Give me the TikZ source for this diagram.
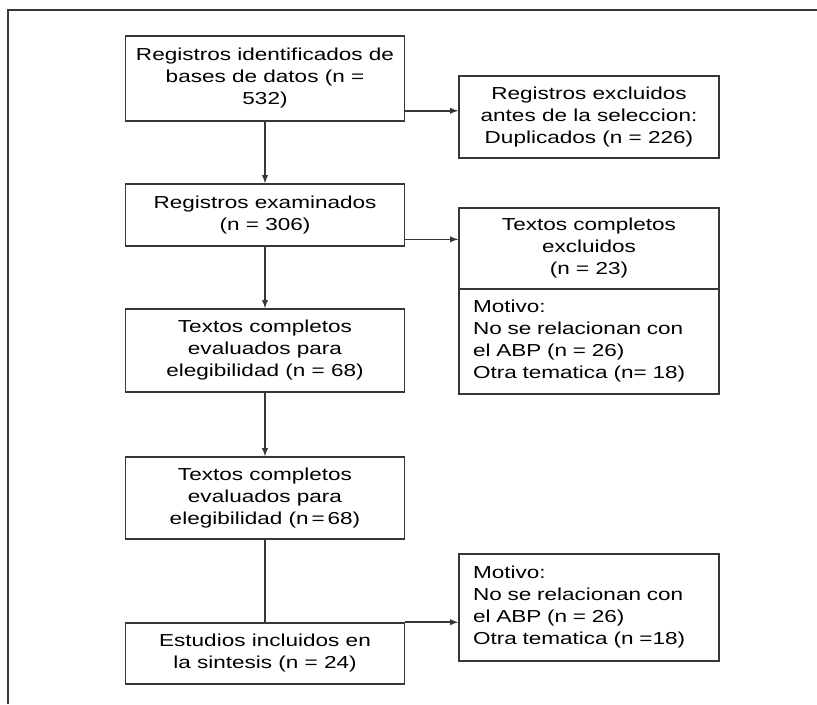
\documentclass[tikz,border=0pt]{standalone}
\usepackage{fontspec}
\setmainfont[FakeStretch=1.3]{Liberation Sans}
\usepackage{tikz}
\usetikzlibrary{arrows}
\usetikzlibrary{positioning}
\definecolor{linegray}{RGB}{55,55,55}
\tikzset{>=latex}
\tikzstyle{box} = [rectangle, draw=linegray, line width=1.2pt, align=center, inner sep=0, minimum width=209.25pt]
\tikzstyle{sidebox} = [rectangle, draw=linegray, line width=1.2pt, inner sep=0, minimum width=195pt]
\tikzstyle{reason} = [rectangle, draw=linegray, line width=1.2pt, align=left, text width=174pt, inner xsep=10.5pt, inner ysep=0]
\tikzstyle{link} = [-latex, draw=linegray, line width=1.1pt]

\begin{document}
\begin{tikzpicture}[x=0.75pt, y=-0.75pt, font=\fontsize{13}{16.5}\selectfont]
\useasboundingbox (0,0) rectangle (817,704);
\draw [line width=1.5pt, draw=linegray] (817,10) -- (8,10) -- (8,704);
% left column
\node [box, minimum height=63.75pt] (R) at (265, 78.5) {Registros identificados de\\bases de datos (n =\\532)};
\node [box, minimum height=46.5pt] (E) at (265, 215) {Registros examinados\\(n = 306)};
\node [box, minimum height=62.25pt] (T1) at (265, 350.5) {Textos completos\\evaluados para\\elegibilidad (n = 68)};
\node [box, minimum height=61.5pt] (T2) at (265, 498) {Textos completos\\evaluados para\\elegibilidad (n\,=\,68)};
\node [box, minimum height=45.75pt] (S) at (265, 653.5) {Estudios incluidos en\\la sintesis (n = 24)};
% right column
\node [sidebox, align=center, minimum height=61.5pt] (D) at (589, 117) {Registros excluidos\\antes de la seleccion:\\Duplicados (n = 226)};
\node [sidebox, align=center, minimum height=60.75pt] (X) at (589, 248.5) {Textos completos\\excluidos\\(n = 23)};
\node [reason, minimum height=78.75pt] (M1) at (589, 341.5) {Motivo:\\No se relacionan con\\el ABP (n = 26)\\Otra tematica (n= 18)};
\node [reason, minimum height=80.25pt] (M2) at (589, 607.5) {Motivo:\\No se relacionan con\\el ABP (n = 26)\\Otra tematica (n =18)};
% connectors
\coordinate (r1) at ([yshift=8.25pt]R.south east);
\coordinate (e1) at ([yshift=5.6pt]E.south east);
\draw [link] (R) -- (E);
\draw [link] (E) -- (T1);
\draw [link] (T1) -- (T2);
\draw [draw=linegray, line width=1.1pt] (T2) -- (S);
\draw [link] (r1) -- (D.west |- r1);
\draw [link] (e1) -- (X.west |- e1);
\draw [link] (S.north east) -- (M2.west |- S.north east);
\end{tikzpicture}
\end{document}
